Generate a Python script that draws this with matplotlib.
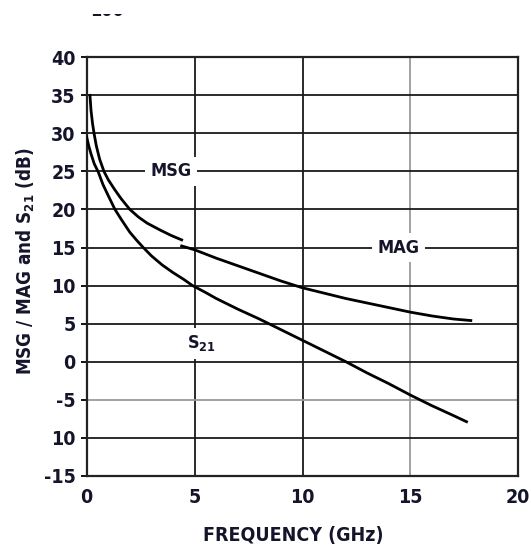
import matplotlib
matplotlib.use('Agg')
from matplotlib import pyplot as plt
from matplotlib.patches import Rectangle

# gain vs frequency curves (GHz, dB)
msgFreq = [0.15, 0.2, 0.27, 0.34, 0.45, 0.6, 0.8, 1.0, 1.3, 1.6, 2.0, 2.4, 2.8, 3.4, 3.9, 4.4]
msgGain = [35.0, 33.0, 31.3, 30.0, 28.3, 26.6, 25.0, 23.9, 22.6, 21.4, 20.0, 19.0, 18.2, 17.3, 16.6, 16.0]

magFreq = [4.4, 5.0, 6.0, 7.0, 8.0, 9.0, 10.0, 11.0, 12.0, 13.0, 14.0, 15.0, 16.0, 17.0, 17.8]
magGain = [15.2, 14.7, 13.6, 12.6, 11.6, 10.6, 9.7, 9.0, 8.3, 7.7, 7.1, 6.5, 6.0, 5.6, 5.4]

s21Freq = [0.0, 0.1, 0.2, 0.35, 0.54, 0.75, 1.0, 1.31, 1.6, 2.0, 2.3, 2.62, 3.0, 3.5, 4.0, 4.5, 4.9,
           5.5, 6.0, 7.0, 8.0, 9.0, 10.0, 11.0, 12.0, 13.0, 14.0, 15.0, 16.0, 17.0, 17.6]
s21Gain = [29.5, 28.3, 27.3, 26.0, 24.9, 23.3, 21.8, 20.0, 18.7, 17.0, 16.0, 15.0, 13.9, 12.7, 11.7, 10.8, 10.0,
           9.1, 8.3, 6.9, 5.6, 4.2, 2.8, 1.4, 0.0, -1.5, -2.9, -4.4, -5.8, -7.1, -7.9]

xTicks = [0, 5, 10, 15, 20]
yTicks = [40, 35, 30, 25, 20, 15, 10, 5, 0, -5, -10, -15]
yTickLabels = ['40', '35', '30', '25', '20', '15', '10', '5', '0', '-5', '10', '-15']

plt.rcParams['font.family'] = ['DejaVu Sans']
plt.rcParams['font.weight'] = 'bold'
plt.rcParams['font.stretch'] = 'condensed'
plt.rcParams['mathtext.fontset'] = 'custom'
plt.rcParams['mathtext.rm'] = 'DejaVu Sans:weight=bold:stretch=condensed'
plt.rcParams['mathtext.it'] = 'DejaVu Sans:weight=bold:stretch=condensed'
plt.rcParams['mathtext.default'] = 'rm'
txtColor = '#14142a'

fig = plt.figure(figsize=(5.31, 5.48), dpi=100)
ax = fig.add_axes([0.1633, 0.1319, 0.8128, 0.7635])
ax.set_xlim(0, 20)
ax.set_ylim(-15, 40)

# grid: black, with the 15 GHz and -5 dB lines in grey
for x in xTicks[1:-1]:
    col = '#9a9a9a' if x == 15 else '#1a1a1a'
    ax.axvline(x, color=col, lw=1.3, zorder=1)
for y in yTicks[1:-1]:
    col = '#9a9a9a' if y == -5 else '#1a1a1a'
    ax.axhline(y, color=col, lw=1.3, zorder=1)

ax.plot(msgFreq, msgGain, color='black', lw=2.0, zorder=3)
ax.plot(magFreq, magGain, color='black', lw=2.0, zorder=3)
ax.plot(s21Freq, s21Gain, color='black', lw=2.0, zorder=3)

box = dict(facecolor='white', edgecolor='none', pad=4)
ax.text(3.9, 25, 'MSG', ha='center', va='center', fontsize=13, color=txtColor, bbox=box, zorder=4)
ax.text(14.43, 15, 'MAG', ha='center', va='center', fontsize=13, color=txtColor, bbox=box, zorder=4)
ax.text(5.33, 2.4, 'S$_{21}$', ha='center', va='center', fontsize=13, color=txtColor, bbox=box, zorder=4)

for s in ax.spines.values():
    s.set_linewidth(1.6)
    s.set_color('#222222')

ax.set_xticks(xTicks)
ax.set_xticklabels([str(x) for x in xTicks])
ax.set_yticks(yTicks)
ax.set_yticklabels(yTickLabels)
ax.tick_params(axis='x', length=0, pad=9, labelsize=14, labelcolor=txtColor)
ax.tick_params(axis='y', length=4, width=1.3, pad=4, labelsize=14, labelcolor=txtColor)

fig.text(293 / 531, 1 - 535 / 548, 'FREQUENCY (GHz)', ha='center', va='center',
         fontsize=14, color=txtColor)
fig.text(26 / 531, 1 - 261 / 548, 'MSG / MAG and S$_{21}$ (dB)', ha='center', va='center',
         rotation=90, fontsize=13.5, color=txtColor)

# clipped label at the very top
fig.text(107 / 531, 1 - 16 / 548, '100', ha='center', va='baseline', fontsize=13, color=txtColor)
fig.add_artist(Rectangle((0, 1 - 13.5 / 548), 1, 13.5 / 548, transform=fig.transFigure,
                         facecolor='white', edgecolor='none', zorder=10))

plt.savefig('out.png', dpi=100)
